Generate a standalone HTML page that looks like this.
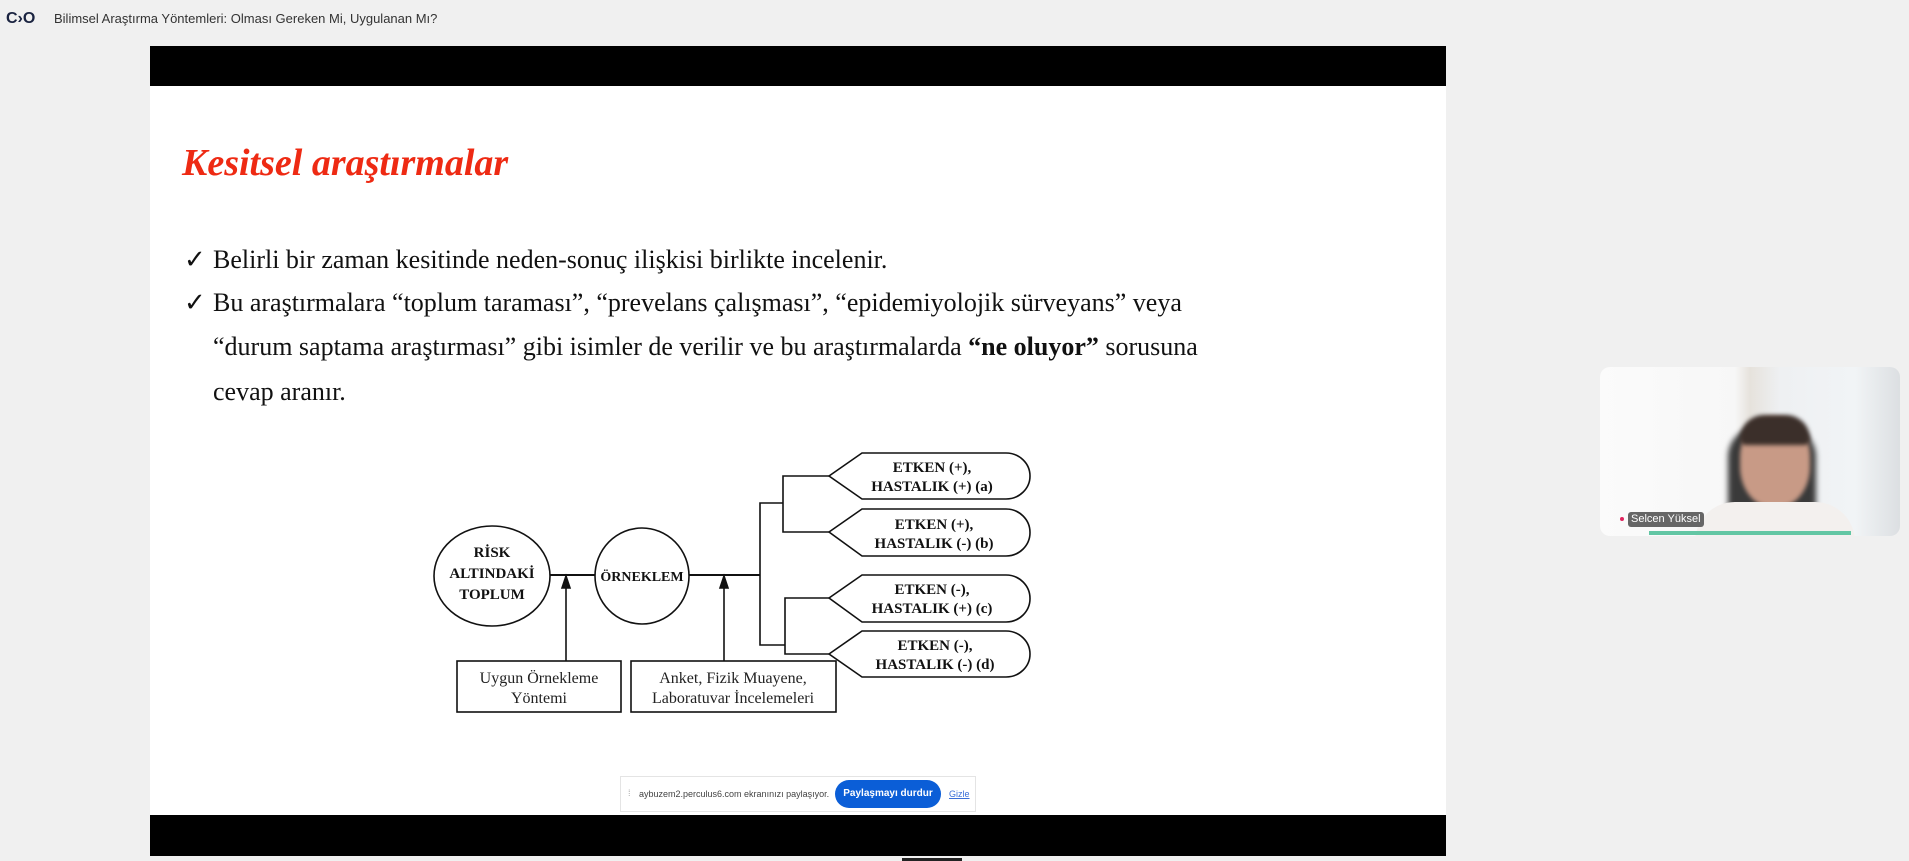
<!DOCTYPE html>
<html><head><meta charset="utf-8"><style>
body{margin:0;width:1909px;height:861px;background:#f0f0f0;position:relative;overflow:hidden;font-family:"Liberation Sans",sans-serif}
.abs{position:absolute}
.serif{font-family:"Liberation Serif",serif}
.b{font-size:26px;color:#111;white-space:nowrap}
</style></head><body>
<div class="abs" style="left:6px;top:10px;font-size:16px;font-weight:bold;color:#1a2340">C›O</div>
<div class="abs" style="left:54px;top:11px;font-size:13px;color:#333">Bilimsel Araştırma Yöntemleri: Olması Gereken Mi, Uygulanan Mı?</div>
<div class="abs" style="left:150px;top:46px;width:1296px;height:40px;background:#000"></div>
<div class="abs" style="left:150px;top:86px;width:1296px;height:729px;background:#fff"></div>
<div class="abs" style="left:150px;top:815px;width:1296px;height:41px;background:#000"></div>
<div class="abs" style="left:902px;top:858px;width:60px;height:3px;background:#222"></div>

<div class="abs serif" style="left:182px;top:141px;font-size:38px;font-weight:bold;font-style:italic;color:#ee2a13">Kesitsel araştırmalar</div>
<div class="abs serif b" style="left:184px;top:245px">✓</div>
<div class="abs serif b" style="left:213px;top:245px">Belirli bir zaman kesitinde neden-sonuç ilişkisi birlikte incelenir.</div>
<div class="abs serif b" style="left:184px;top:288px">✓</div>
<div class="abs serif b" style="left:213px;top:288px">Bu araştırmalara “toplum taraması”, “prevelans çalışması”, “epidemiyolojik sürveyans” veya</div>
<div class="abs serif b" style="left:213px;top:332px">“durum saptama araştırması” gibi isimler de verilir ve bu araştırmalarda <b>“ne oluyor”</b> sorusuna</div>
<div class="abs serif b" style="left:213px;top:377px">cevap aranır.</div>

<svg class="abs" style="left:0;top:0" width="1909" height="861">
<g fill="none" stroke="#111" stroke-width="1.6">
<ellipse cx="492" cy="576" rx="58" ry="50"/>
<ellipse cx="642" cy="576" rx="47" ry="48"/>
<line x1="550" y1="575" x2="595" y2="575" stroke-width="2"/>
<line x1="689" y1="575" x2="760" y2="575" stroke-width="2"/>
<polyline points="783,503 760,503 760,645 785,645"/>
<polyline points="829,476 783,476 783,532 829,532"/>
<polyline points="829,598 785,598 785,654 829,654"/>
<line x1="566" y1="661" x2="566" y2="586"/>
<line x1="724" y1="661" x2="724" y2="586"/>
<polygon points="566,576 562,588 570,588" fill="#111"/>
<polygon points="724,576 720,588 728,588" fill="#111"/>
<rect x="457" y="661" width="164" height="51"/>
<rect x="631" y="661" width="205" height="51"/>
<path d="M829,476 L862,453 L1006,453 A24,23 0 0 1 1006,499 L862,499 Z"/>
<path d="M829,532 L862,509 L1006,509 A24,23.5 0 0 1 1006,556 L862,556 Z"/>
<path d="M829,598 L862,575 L1006,575 A24,23.5 0 0 1 1006,622 L862,622 Z"/>
<path d="M829,654 L862,631 L1006,631 A24,23 0 0 1 1006,677 L862,677 Z"/>
</g>
<g fill="#111" font-family="Liberation Serif,serif" font-size="15" font-weight="bold" text-anchor="middle">
<text x="492" y="557">RİSK</text><text x="492" y="578">ALTINDAKİ</text><text x="492" y="599">TOPLUM</text>
<text x="642" y="581" font-size="14">ÖRNEKLEM</text>
<text x="932" y="472">ETKEN (+),</text><text x="932" y="491">HASTALIK (+) (a)</text>
<text x="934" y="529">ETKEN (+),</text><text x="934" y="548">HASTALIK (-) (b)</text>
<text x="932" y="594">ETKEN (-),</text><text x="932" y="613">HASTALIK (+) (c)</text>
<text x="935" y="650">ETKEN (-),</text><text x="935" y="669">HASTALIK (-) (d)</text>
</g>
<g fill="#222" font-family="Liberation Serif,serif" font-size="16" text-anchor="middle">
<text x="539" y="683">Uygun Örnekleme</text><text x="539" y="703">Yöntemi</text>
<text x="733" y="683">Anket, Fizik Muayene,</text><text x="733" y="703">Laboratuvar İncelemeleri</text>
</g>
</svg>

<div class="abs" style="left:620px;top:776px;width:356px;height:36px;background:#fff;border:1px solid #e4e4e4;box-sizing:border-box"></div>
<div class="abs" style="left:628px;top:788px;font-size:9px;color:#aaa">⁞</div>
<div class="abs" style="left:639px;top:789px;font-size:9px;color:#444">aybuzem2.perculus6.com ekranınızı paylaşıyor.</div>
<div class="abs" style="left:835px;top:780px;width:106px;height:28px;border-radius:14px;background:#0b5ed7;color:#fff;font-size:10px;font-weight:bold;text-align:center;line-height:28px">Paylaşmayı durdur</div>
<div class="abs" style="left:949px;top:789px;font-size:9px;color:#3b6fd8;text-decoration:underline">Gizle</div>

<div class="abs" style="left:1600px;top:367px;width:300px;height:169px;border-radius:10px;overflow:hidden;background:linear-gradient(90deg,#fbfbfb 0%,#f7f7f7 45%,#e6e2dc 50%,#eef0f2 60%,#f1f4f6 85%,#dcdfe2 100%)">
 <div class="abs" style="left:128px;top:60px;width:88px;height:110px;background:#3a3a3a;border-radius:30px 30px 0 0;filter:blur(3px)"></div>
 <div class="abs" style="left:140px;top:50px;width:70px;height:90px;background:#c89a86;border-radius:45%;filter:blur(2px)"></div>
 <div class="abs" style="left:140px;top:48px;width:70px;height:30px;background:#3b2f2a;border-radius:40px 40px 10px 10px;filter:blur(2px)"></div>
 <div class="abs" style="left:95px;top:135px;width:160px;height:40px;background:#f3f0ee;border-radius:40px 40px 0 0"></div>
 <div class="abs" style="left:20px;top:150px;width:4px;height:4px;border-radius:2px;background:#e0245e"></div>
 <div class="abs" style="left:28px;top:145px;padding:0 3px;height:15px;background:#666;color:#fff;font-size:11px;line-height:15px;border-radius:3px">Selcen Yüksel</div>
 <div class="abs" style="left:49px;top:164px;width:202px;height:4px;background:#62c6a4"></div>
</div>
</body></html>
